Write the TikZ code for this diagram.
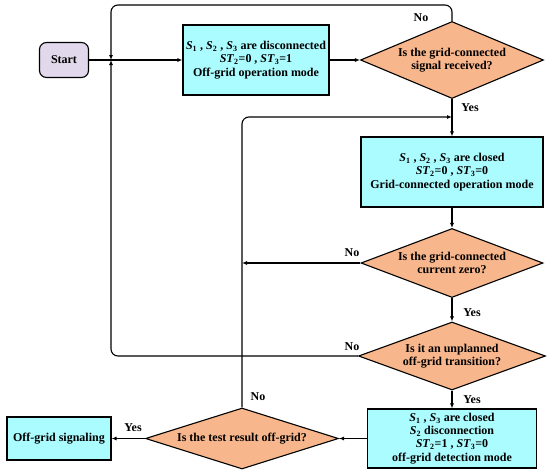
\documentclass[tikz,border=0pt]{standalone}
\usepackage{fontspec}
\setmainfont{Liberation Serif}
\usetikzlibrary{shapes.geometric,arrows.meta}
\definecolor{boxcyan}{RGB}{170,252,255}
\definecolor{decpeach}{RGB}{248,182,140}
\definecolor{startlav}{RGB}{226,216,236}
\newcommand{\Sx}[1]{\textit{S}\textsubscript{#1}}
\newcommand{\STx}[1]{\textit{ST}\textsubscript{#1}}
\begin{document}
\begin{tikzpicture}[x=1pt,y=-1pt,
  font=\fontsize{12}{13.3}\selectfont\bfseries,
  every path/.style={line width=1.1pt},
  arr/.style={-{Latex[length=5pt,width=4pt]}},
  procbox/.style={draw, fill=boxcyan, align=center, inner sep=0pt},
  decbox/.style={draw, diamond, fill=decpeach, inner sep=0pt},
  startbox/.style={draw, fill=startlav, rounded corners=7pt, inner sep=0pt},
  lbl/.style={inner sep=0pt}
]
\useasboundingbox (0,0) rectangle (550,475);
% nodes
\node[startbox, minimum width=49pt, minimum height=35pt] (start) at (64,60) {Start};
\node[procbox, minimum width=146pt, minimum height=70pt] (b1) at (256,60)
  {\Sx{1} , \Sx{2} , \Sx{3} are disconnected\\ \STx{2}=0 , \STx{3}=1\\ Off-grid operation mode};
\node[decbox, minimum width=183pt, minimum height=77pt,
  label={[align=center]center:Is the grid-connected\\ signal received?}] (d1) at (452,60) {};
\node[procbox, minimum width=182pt, minimum height=70pt] (b2) at (452,172)
  {\Sx{1} , \Sx{2} , \Sx{3} are closed\\ \STx{2}=0 , \STx{3}=0\\ Grid-connected operation mode};
\node[decbox, minimum width=182pt, minimum height=69pt,
  label={[align=center]center:Is the grid-connected\\ current zero?}] (d2) at (452,263) {};
\node[decbox, minimum width=187pt, minimum height=68pt,
  label={[align=center]center:Is it an unplanned\\ off-grid transition?}] (d3) at (452,356) {};
\node[procbox, minimum width=169pt, minimum height=59pt] (b3) at (452,438.5)
  {\Sx{1} , \Sx{3} are closed\\ \Sx{2} disconnection\\ \STx{2}=1 , \STx{3}=0\\ off-grid detection mode};
\node[decbox, minimum width=193pt, minimum height=61pt,
  label={[align=center]center:Is the test result off-grid?}] (d4) at (242,438.5) {};
\node[procbox, minimum width=104pt, minimum height=43pt] (b4) at (59,438.5) {Off-grid signaling};
% junction coordinates
\coordinate (j1) at (111,60);
\coordinate (j2) at (242,263);
\coordinate (j3) at (452,117);
% connectors
\draw[arr] (start) -- (b1);
\draw[arr] (b1) -- (d1);
\draw[arr] (d1) -- (b2);
\draw[arr] (b2) -- (d2);
\draw[arr] (d2) -- (d3);
\draw[arr] (d3) -- (b3);
\draw[arr] (b3) -- (d4);
\draw[arr] (d4) -- (b4);
\draw[arr, rounded corners=7pt] (d1.north) |- (111,5) -- (j1);
\draw[arr, rounded corners=7pt] (d3.west) -| (j1);
\draw[arr] (d2.west) -- (j2);
\draw[arr, rounded corners=7pt] (d4.north) |- (j3);
% labels
\node[lbl] (lno1) at (421,18) {No};
\node[lbl] (lyes1) at (470,108) {Yes};
\node[lbl] (lno2) at (352,253) {No};
\node[lbl] (lyes2) at (472,313) {Yes};
\node[lbl] (lno3) at (352,347) {No};
\node[lbl] (lyes3) at (472,400) {Yes};
\node[lbl] (lno4) at (258,397) {No};
\node[lbl] (lyes4) at (133,428) {Yes};
\end{tikzpicture}
\end{document}
